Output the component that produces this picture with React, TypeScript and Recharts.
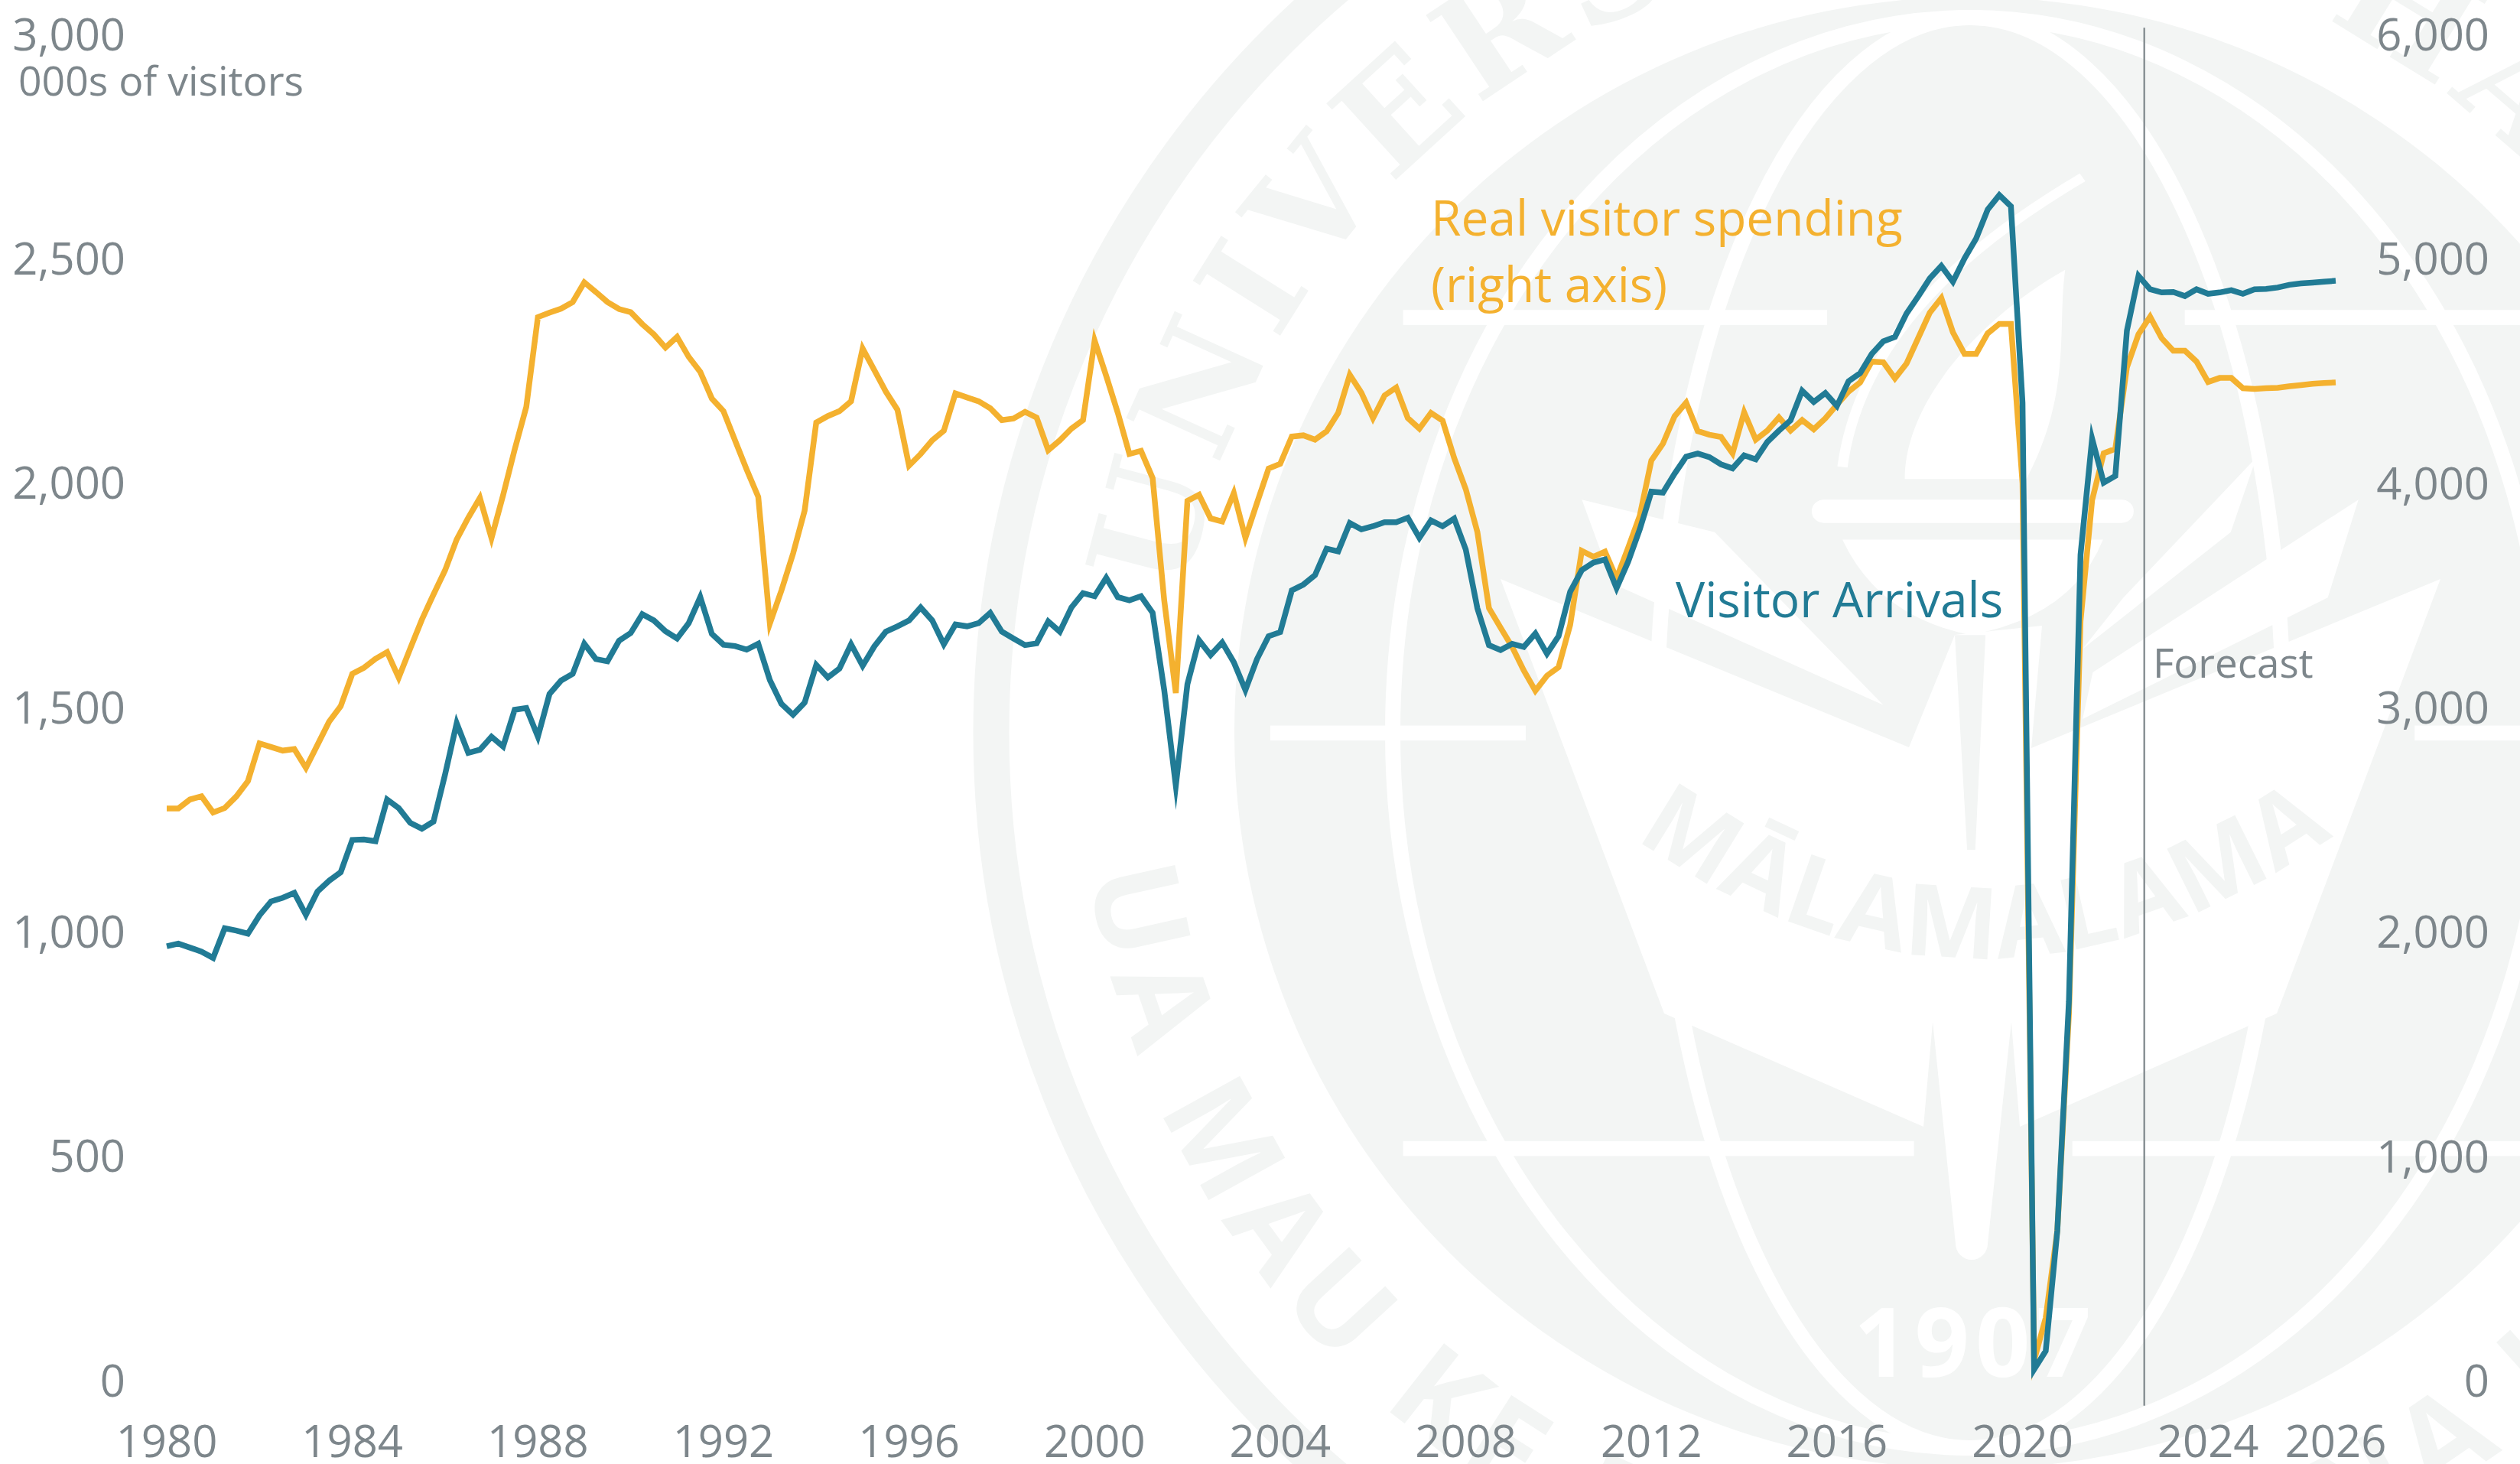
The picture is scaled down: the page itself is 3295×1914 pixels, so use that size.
import React from "react";
import { LineChart, Line, XAxis, YAxis, ReferenceLine } from "recharts";

const visitorArrivals = [
  968,974,965,956,942,1008,1003,996,1037,1068,
  1076,1087,1038,1090,1114,1133,1205,1206,1202,1295,
  1276,1243,1230,1246,1351,1465,1399,1406,1435,1413,
  1495,1499,1435,1530,1560,1575,1642,1608,1603,1649,
  1666,1708,1694,1670,1654,1688,1746,1664,1640,1637,
  1629,1642,1561,1508,1484,1511,1595,1567,1587,1641,
  1593,1636,1669,1681,1694,1723,1694,1641,1685,1681,
  1688,1711,1669,1654,1639,1643,1692,1669,1723,1755,
  1748,1789,1746,1739,1748,1711,1539,1326,1552,1650,
  1617,1645,1601,1539,1608,1659,1668,1761,1774,1795,
  1854,1848,1911,1897,1904,1913,1913,1923,1878,1917,
  1904,1921,1852,1721,1639,1628,1642,1635,1665,1620,
  1659,1758,1806,1823,1830,1766,1825,1897,1981,1979,
  2021,2059,2066,2058,2042,2033,2062,2053,2092,2117,
  2140,2206,2181,2201,2172,2227,2245,2288,2316,2326,
  2378,2416,2456,2484,2449,2501,2545,2610,2642,2617,
  2179,25,66,334,845,1840,2099,2001,2016,2340,
  2462,2432,2425,2426,2417,2432,2422,2425,2430,2422,
  2432,2433,2436,2442,2445,2447,2449,2451,
];

const realSpending = [
  2550,2550,2590,2604,2532,2552,2604,2672,2840,2824,
  2808,2815,2731,2834,2937,3006,3150,3177,3217,3247,
  3133,3264,3392,3504,3612,3749,3846,3934,3755,3946,
  4150,4340,4740,4760,4778,4807,4895,4852,4807,4776,
  4762,4709,4663,4604,4652,4563,4496,4377,4321,4190,
  4061,3939,3374,3522,3686,3878,4270,4299,4321,4365,
  4600,4504,4408,4327,4078,4130,4191,4234,4400,4382,
  4365,4334,4281,4288,4318,4292,4147,4191,4243,4281,
  4635,4478,4313,4130,4144,4023,3478,3065,3921,3948,
  3843,3829,3956,3756,3912,4065,4086,4208,4213,4194,
  4231,4313,4483,4403,4290,4391,4426,4290,4243,4313,
  4279,4112,3973,3782,3443,3356,3270,3165,3075,3142,
  3180,3368,3698,3672,3695,3576,3712,3855,4101,4176,
  4298,4359,4232,4216,4206,4133,4316,4194,4234,4293,
  4234,4281,4240,4289,4350,4408,4449,4542,4539,4467,
  4533,4646,4759,4825,4672,4576,4576,4668,4710,4710,
  4000,90,280,668,1633,3385,3924,4133,4153,4516,
  4664,4742,4646,4590,4590,4542,4451,4469,4469,4423,
  4420,4423,4425,4432,4437,4443,4446,4449,
];

const yearTicks = [1980,1984,1988,1992,1996,2000,2004,2008,2012,2016,2020,2024,2026.75];
const leftTicks = [0,500,1000,1500,2000,2500,3000];
const rightTicks = [0,1000,2000,3000,4000,5000,6000];
const forecastStart = 2022.625;

const data = visitorArrivals.map((v, i) => ({
  year: 1980 + i / 4,
  arrivals: v,
  spending: realSpending[i],
}));

const FONT = "'Open Sans', sans-serif";
const GREY = "#7d868b";
const ORANGE = "#f4b12f";
const TEAL = "#217b95";
const SEAL = "#f3f5f4";
const W = 3295;
const H = 1914;
const CX = 2576;
const CY = 958;

const fmt = (n: number) => n.toLocaleString("en-US");

const RightTick = (p: any) => (
  <text x={p.x} y={p.y} dy="0.36em" textAnchor="end" fontFamily={FONT} fontSize={58} fill={GREY}>
    {fmt(p.payload.value)}
  </text>
);

const Seal = () => (
  <svg width={W} height={H} style={{ position: "absolute", left: 0, top: 0 }}>
    <defs>
      <path id="topArc" d={`M ${CX - 1040} ${CY} A 1040 1040 0 1 1 ${CX + 1040} ${CY}`} />
      <path id="botArc" d={`M ${CX - 1167} ${CY} A 1167 1167 0 0 0 ${CX + 1167} ${CY}`} />
      <path id="bookArc" d="M 2130 1090 Q 2580 1410 3040 1100" />
      <clipPath id="page"><rect x={0} y={0} width={W} height={H} /></clipPath>
    </defs>
    <g clipPath="url(#page)">
      <circle cx={CX} cy={CY} r={1280} fill="none" stroke={SEAL} strokeWidth={47} />
      <circle cx={CX} cy={CY} r={962} fill={SEAL} />
      <ellipse cx={CX} cy={CY} rx={755} ry={935} fill="none" stroke="#fff" strokeWidth={20} />
      <ellipse cx={CX} cy={CY} rx={410} ry={935} fill="none" stroke="#fff" strokeWidth={20} />
      <polygon
        fill="#fff"
        points="1962,757 2496,977 2556,830 2670,818 2656,978 3191,757 2977,1325 2641,1473 2630,1337 2527,1337 2515,1473 2176,1325"
      />
      <polygon fill="#fff" points="2527,1335 2630,1335 2599,1626 2557,1626" />
      <circle cx={2578} cy={1626} r={21} fill="#fff" />
      <g transform="translate(1200,0) scale(1.336,1.2208)" fill="#fff">
        <rect x={475} y={332} width={415} height={16} />
        <rect x={1240} y={332} width={330} height={16} />
        <rect x={345} y={777} width={250} height={16} />
        <rect x={1465} y={777} width={105} height={16} />
        <rect x={475} y={1222} width={500} height={16} />
        <rect x={1130} y={1222} width={440} height={16} />
        <polygon points="650,535 780,570 945,755 680,625" />
        <polygon points="1310,490 1285,570 1140,695 1180,640" />
        <polygon points="1410,535 1380,640 1140,770 1150,720" />
        <rect x={875} y={535} width={315} height={25} rx={12} />
        <path d="M905,578 L1160,578 Q1130,660 1030,680 Q940,660 905,578 Z" />
        <path d="M966,513 C966,430 1040,340 1123,289 C1115,350 1130,420 1085,513 Z" />
        <path d="M905,500 C920,380 1000,280 1140,190" fill="none" stroke="#fff" strokeWidth={10} />
        <polygon points="1015,680 1045,680 1035,910 1027,910" fill={SEAL} />
      </g>
      <text fontFamily="'DejaVu Serif', serif" fontWeight={700} fontSize={185} fill={SEAL} letterSpacing={12}>
        <textPath href="#topArc" startOffset="180">UNIVERSITY OF HAWAI‘I</textPath>
      </text>
      <text fontFamily={FONT} fontWeight={700} fontSize={160} fill={SEAL} letterSpacing={16}>
        <textPath href="#botArc" startOffset="185">UA MAU KE EA O KA ‘ĀINA I KA PONO</textPath>
      </text>
      <text fontFamily={FONT} fontWeight={700} fontSize={130} fill={SEAL} letterSpacing={2}>
        <textPath href="#bookArc" startOffset="10">MĀLAMALAMA</textPath>
      </text>
      <text x={2583} y={1800} textAnchor="middle" fontFamily={FONT} fontWeight={700} fontSize={125} fill="#fff" letterSpacing={8}>1907</text>
    </g>
  </svg>
);

const Notes = () => (
  <svg width={W} height={H} style={{ position: "absolute", left: 0, top: 0, pointerEvents: "none" }} fontFamily={FONT}>
    <text x={24} y={125} fontSize={53.5} fill={GREY}>000s of visitors</text>
    <text x={1871} y={308} fontSize={64} fill={ORANGE}>Real visitor spending</text>
    <text x={1871} y={395} fontSize={64} fill={ORANGE}>(right axis)</text>
    <text x={2191} y={807} fontSize={64} fill={TEAL}>Visitor Arrivals</text>
    <text x={2815} y={886} fontSize={53} fill={GREY}>Forecast</text>
  </svg>
);

export default function App() {
  return (
    <div style={{ position: "absolute", left: 0, top: 0, width: W, height: H, overflow: "hidden", background: "#fff" }}>
      <Seal />
      <div style={{ position: "absolute", left: 0, top: 0 }}>
        <LineChart width={W} height={H} data={data} margin={{ top: 45, right: 0, bottom: 0, left: 0 }}>
          <XAxis
            dataKey="year"
            type="number"
            domain={[1980, 2026.75]}
            ticks={yearTicks}
            interval={0}
            height={109}
            tickFormatter={(v: number) => String(Math.floor(v))}
            axisLine={false}
            tickLine={false}
            tickSize={0}
            tickMargin={59}
            tick={{ fontFamily: FONT, fontSize: 58, fill: GREY }}
          />
          <YAxis
            yAxisId="left"
            domain={[0, 3000]}
            ticks={leftTicks}
            interval={0}
            width={218}
            tickFormatter={fmt}
            axisLine={false}
            tickLine={false}
            tickSize={0}
            tickMargin={54}
            tick={{ fontFamily: FONT, fontSize: 58, fill: GREY }}
          />
          <YAxis
            yAxisId="right"
            orientation="right"
            domain={[0, 6000]}
            ticks={rightTicks}
            interval={0}
            width={241}
            axisLine={false}
            tickLine={false}
            tickSize={0}
            tickMargin={201}
            tick={<RightTick />}
          />
          <ReferenceLine
            yAxisId="left"
            ifOverflow="visible"
            segment={[{ x: forecastStart, y: -56 }, { x: forecastStart, y: 3015 }]}
            stroke="#8a9296"
            strokeWidth={2.5}
          />
          <Line
            yAxisId="right"
            dataKey="spending"
            type="linear"
            stroke={ORANGE}
            strokeWidth={7.5}
            strokeLinejoin="miter"
            strokeMiterlimit={10}
            dot={false}
            activeDot={false}
            isAnimationActive={false}
          />
          <Line
            yAxisId="left"
            dataKey="arrivals"
            type="linear"
            stroke={TEAL}
            strokeWidth={7.5}
            strokeLinejoin="miter"
            strokeMiterlimit={10}
            dot={false}
            activeDot={false}
            isAnimationActive={false}
          />
        </LineChart>
      </div>
      <Notes />
    </div>
  );
}
